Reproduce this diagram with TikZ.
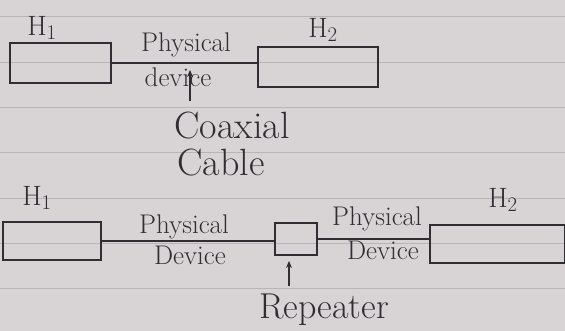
\documentclass[tikz,border=0pt]{standalone}
\usepackage{tikz}
\usetikzlibrary{positioning, arrows.meta}
\definecolor{paper}{HTML}{D8D4D5}
\definecolor{ruling}{HTML}{B9B5B7}
\definecolor{ink}{HTML}{302E33}
\tikzset{
  host/.style={draw=ink, line width=1.3pt, rectangle, inner sep=0pt},
  word/.style={text=ink, font=\fontsize{27}{29}\selectfont, inner sep=0pt},
  bigword/.style={text=ink, font=\fontsize{38}{40}\selectfont, inner sep=0pt},
  repword/.style={text=ink, font=\fontsize{36}{38}\selectfont, inner sep=0pt},
  hlabel/.style={text=ink, font=\fontsize{28}{30}\selectfont, inner sep=0pt},
  wire/.style={draw=ink, line width=1.2pt},
  pointer/.style={draw=ink, line width=1.3pt, -{Stealth[length=7pt, width=6pt]}}
}

\begin{document}
\begin{tikzpicture}[x=1pt, y=-1pt]
  % paper and its rulings
  \fill[paper] (0,0) rectangle (565,331);
  \useasboundingbox (0,0) rectangle (565,331);
  \foreach \y in {16,62,107,152,198,243,288}
    \draw[ruling, line width=0.8pt] (0,\y) -- (565,\y);

  % coaxial cable link
  \node[hlabel] (h1toplbl) at (42,28) {H$_1$};
  \node[host, minimum width=101pt, minimum height=40pt] (h1top) at (60.5,63) {};
  \node[hlabel] (h2toplbl) at (323,30) {H$_2$};
  \node[host, minimum width=120pt, minimum height=40pt] (h2top) at (318,67) {};
  \draw[wire] (h1top.east) -- (h1top.east -| h2top.west);
  \node[word] (phystop) at (186,45) {Physical};
  \node[word] (devtop) at (178,77) {device};
  \node[bigword] (coax) at (232,126) {Coaxial};
  \node[bigword] (cable) at (221,163) {Cable};
  \coordinate (coaxtail) at (190,101);
  \coordinate (coaxtip) at (190,70);
  \draw[pointer] (coaxtail) -- (coaxtip);

  % link through a repeater
  \node[hlabel] (h1botlbl) at (37,198) {H$_1$};
  \node[host, minimum width=98pt, minimum height=38pt] (h1bot) at (52,241) {};
  \node[host, minimum width=42pt, minimum height=32pt] (rep) at (296,239) {};
  \node[host, minimum width=135pt, minimum height=38pt] (h2bot) at (497.5,244) {};
  \node[hlabel] (h2botlbl) at (503,200) {H$_2$};
  \draw[wire] (h1bot.east) -- (h1bot.east -| rep.west);
  \draw[wire] (rep.east) -- (rep.east -| h2bot.west);
  \node[word] (physleft) at (184,227) {Physical};
  \node[word] (devleft) at (190,255) {Device};
  \node[word] (physright) at (377,219) {Physical};
  \node[word] (devright) at (383,250) {Device};
  \node[repword] (replbl) at (324,310) {Repeater};
  \coordinate (reptail) at (289,286);
  \coordinate (reptip) at (289,261);
  \draw[pointer] (reptail) -- (reptip);
\end{tikzpicture}
\end{document}
